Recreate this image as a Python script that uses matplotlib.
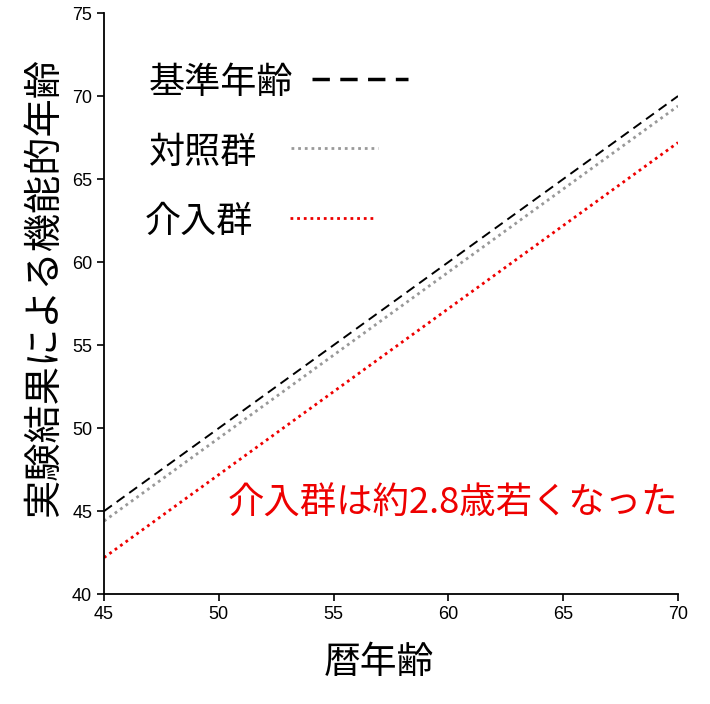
import numpy as np
import matplotlib
matplotlib.use("Agg")
import matplotlib.pyplot as plt

plt.rcParams['font.family'] = ['Liberation Sans', 'Noto Sans CJK JP', 'DejaVu Sans']
JP = ['Noto Sans CJK JP', 'DejaVu Sans']

# data
age = np.array([45, 70])
baseline = np.array([45.0, 70.0])
control = np.array([44.4, 69.4])
intervention = np.array([42.2, 67.2])

labels = ['基準年齢', '対照群', '介入群']
xticks = [45, 50, 55, 60, 65, 70]
yticks = [40, 45, 50, 55, 60, 65, 70, 75]

fig = plt.figure(figsize=(7.1, 7.04), dpi=100)
ax = fig.add_axes([0.1465, 0.156, 0.8085, 0.8255])

ax.plot(age, baseline, color='black', lw=1.4, ls=(0, (5, 3)))
ax.plot(age, control, color='#999999', lw=2.0, ls=(0, (1, 1.4)))
ax.plot(age, intervention, color='#ee0000', lw=2.0, ls=(0, (1, 1.4)))

ax.set_xlim(45, 70)
ax.set_ylim(40, 75)
ax.set_xticks(xticks)
ax.set_yticks(yticks)
ax.tick_params(labelsize=13, length=5, width=1.2, direction='out')
for s in ['top', 'right']:
    ax.spines[s].set_visible(False)
for s in ['left', 'bottom']:
    ax.spines[s].set_linewidth(1.3)

ax.set_xlabel('暦年齢', fontsize=26.5, family=JP, va='center')
ax.xaxis.set_label_coords(0.478, -0.118)
ax.set_ylabel('実験結果による機能的年齢', fontsize=27.5, family=JP, va='center')
ax.yaxis.set_label_coords(-0.103, 0.527)

# hand-made legend
ax.text(0.078, 0.880, labels[0], transform=ax.transAxes, fontsize=26, family=JP, va='center')
ax.plot([0.362, 0.529], [0.887, 0.887], transform=ax.transAxes, color='black', lw=2.5, ls=(0, (5, 3)))
ax.text(0.078, 0.760, labels[1], transform=ax.transAxes, fontsize=26, family=JP, va='center')
ax.plot([0.326, 0.477], [0.767, 0.767], transform=ax.transAxes, color='#999999', lw=2.0, ls=(0, (1, 1.4)))
ax.text(0.071, 0.640, labels[2], transform=ax.transAxes, fontsize=26, family=JP, va='center')
ax.plot([0.324, 0.474], [0.648, 0.648], transform=ax.transAxes, color='#ee0000', lw=2.0, ls=(0, (1, 1.4)))

ax.text(70, 45.45, '介入群は約2.8歳若くなった', color='#ee0000', fontsize=26.2, family=JP,
        ha='right', va='center')

fig.savefig('out.png', dpi=100)
